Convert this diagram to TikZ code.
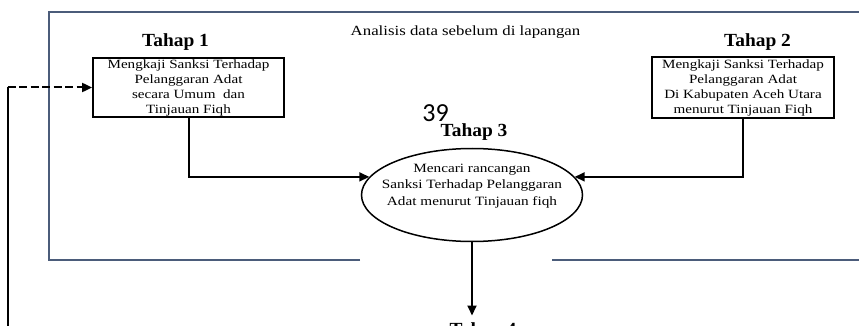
\documentclass[tikz,border=0pt]{standalone}
\usepackage{fontspec}
\setmainfont{Liberation Serif}[FakeStretch=1.2]
\newfontfamily\tahapfont{Liberation Serif}[FakeStretch=1.05]
\newfontfamily\pagefont{Carlito}
\usetikzlibrary{arrows.meta,shapes.geometric}
\definecolor{framecol}{HTML}{4B5C7A}
\tikzset{
  framestyle/.style={draw=framecol, line width=1.5pt},
  boxstyle/.style={draw, line width=1.8pt, inner sep=0pt, align=center,
     font=\fontsize{12.6}{15}\selectfont},
  tahapstyle/.style={font=\tahapfont\bfseries\fontsize{18.5}{20}\selectfont, inner sep=0pt, anchor=base},
  conn/.style={line width=2pt, -{Triangle[length=10pt,width=9pt]}},
  plainconn/.style={line width=2pt},
}
\begin{document}
\begin{tikzpicture}[x=1pt,y=-1pt]
\useasboundingbox (0,0) rectangle (859,326);
% frame
\draw[framestyle] (360,260) -| (49,12) -- (860,12);
\draw[framestyle] (552,260) -- (860,260);
% title
\node[anchor=base, inner sep=0pt, font=\fontsize{14}{16}\selectfont] (title) at (465.5,36) {Analisis data sebelum di lapangan};
% tahap labels
\node[tahapstyle] (l1) at (175.5,47) {Tahap 1};
\node[tahapstyle] (l2) at (757.5,47) {Tahap 2};
\node[anchor=base, inner sep=0pt, font=\pagefont\fontsize{26}{28}\selectfont] (pg) at (435.5,122) {39};
\node[tahapstyle] (l3) at (474,137) {Tahap 3};
% boxes
\node[boxstyle, minimum width=191pt, minimum height=59pt] (b1) at (188.5,87.5)
  {Mengkaji Sanksi Terhadap\\Pelanggaran Adat\\secara Umum\ \ dan\\Tinjauan Fiqh};
\node[boxstyle, minimum width=182pt, minimum height=61pt] (b2) at (743,87.5)
  {Mengkaji Sanksi Terhadap\\Pelanggaran Adat\\Di Kabupaten Aceh Utara\\menurut Tinjauan Fiqh};
% ellipse
\node[draw, ellipse, line width=1.5pt, minimum width=221pt, minimum height=93pt, inner sep=0pt] (e3) at (472,195) {};
\node[align=center, inner sep=0pt, font=\fontsize{12.7}{16.3}\selectfont] (t3) at (472,186)
  {Mencari rancangan\\Sanksi Terhadap Pelanggaran\\Adat menurut Tinjauan fiqh};
% tahap 4 (cut off)
\node[tahapstyle, anchor=north] (l4) at (483,322.5) {Tahap 4};
% connectors
\draw[conn] (b1.south) |- (e3.170);
\draw[conn] (b2.south) |- (e3.10);
\draw[conn, shorten >=7pt] (e3.south) -- (e3.south |- l4.north);
\coordinate (fb) at (7.5,330);
\coordinate (fc) at (fb |- b1.west);
\draw[plainconn] (fb) -- (fc);
\draw[conn, dash pattern=on 8pt off 3.5pt] (fc) -- (b1.west);
\end{tikzpicture}
\end{document}
